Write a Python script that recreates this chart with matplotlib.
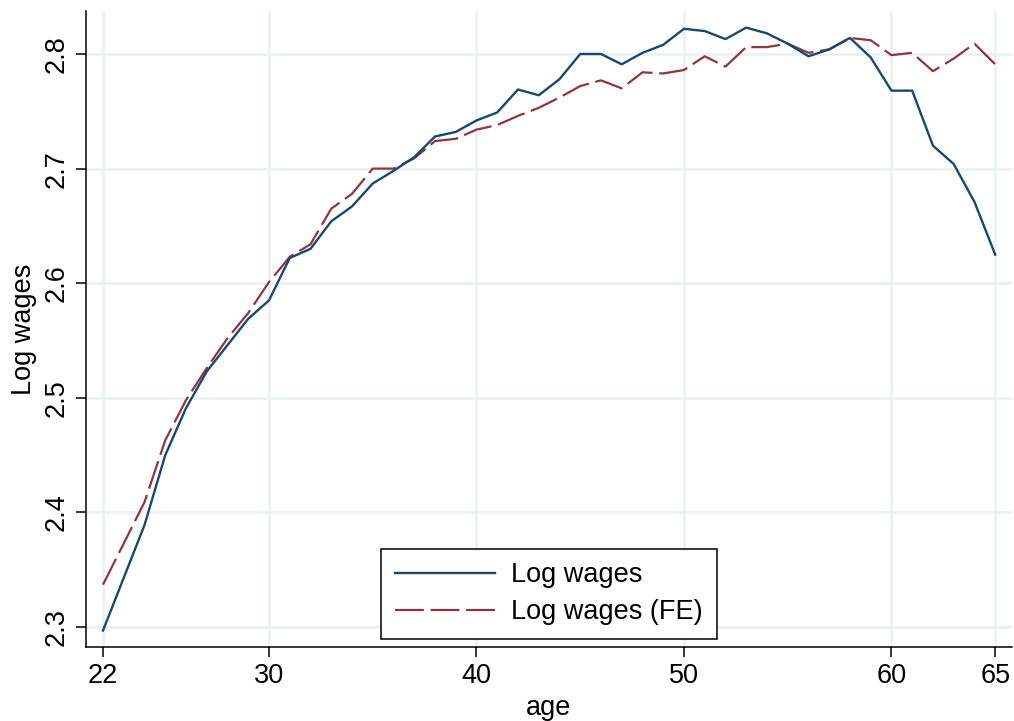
import matplotlib
matplotlib.use("Agg")
import matplotlib.pyplot as plt
import numpy as np

ages = list(range(22, 66))
log_wages = [2.297, 2.343, 2.389, 2.450, 2.491, 2.523, 2.546, 2.569, 2.585, 2.622,
             2.630, 2.654, 2.667, 2.687, 2.698, 2.710, 2.728, 2.732, 2.742, 2.749,
             2.769, 2.764, 2.778, 2.800, 2.800, 2.791, 2.801, 2.808, 2.822, 2.820,
             2.813, 2.823, 2.818, 2.809, 2.798, 2.804, 2.814, 2.797, 2.768, 2.768,
             2.720, 2.704, 2.671, 2.625]
log_wages_fe = [2.337, 2.373, 2.409, 2.463, 2.498, 2.526, 2.552, 2.574, 2.601, 2.623,
                2.634, 2.665, 2.678, 2.700, 2.700, 2.709, 2.724, 2.726, 2.734, 2.738,
                2.746, 2.753, 2.762, 2.772, 2.777, 2.770, 2.784, 2.783, 2.786, 2.798,
                2.789, 2.806, 2.806, 2.809, 2.801, 2.804, 2.814, 2.812, 2.799, 2.801,
                2.785, 2.796, 2.809, 2.791]
x_ticks = [22, 30, 40, 50, 60, 65]
y_ticks = [2.3, 2.4, 2.5, 2.6, 2.7, 2.8]
labels = ["Log wages", "Log wages (FE)"]

plt.rcParams['font.family'] = ['Liberation Sans', 'DejaVu Sans']

FS = 19.5

fig = plt.figure(figsize=(10.14, 7.21), dpi=100)
ax = fig.add_axes([86/1014, 1 - 647/721, (1012-86)/1014, (647-11)/721])

grid_c = '#eaf2f3'
for xt in x_ticks:
    ax.axvline(xt, color=grid_c, lw=2.0, zorder=0)
for yt in y_ticks:
    ax.axhline(yt, color=grid_c, lw=2.0, zorder=0)

ax.plot(ages, log_wages, color='#1a476f', lw=1.7, label=labels[0], zorder=3)
ax.plot(ages, log_wages_fe, color='#90353b', lw=1.6, linestyle=(0, (13, 3)),
        label=labels[1], zorder=2)

ax.set_xlim(21.18, 65.81)
ax.set_ylim(2.2826, 2.8375)
ax.set_xticks(x_ticks)
ax.set_xticklabels([str(t) for t in x_ticks])
ax.set_yticks(y_ticks)
ax.set_yticklabels([f"{t:.1f}" for t in y_ticks], rotation=90, va='center')

for s in ['top', 'right']:
    ax.spines[s].set_visible(False)
for s in ['left', 'bottom']:
    ax.spines[s].set_linewidth(1.1)
    ax.spines[s].set_color('black')

ax.tick_params(axis='both', direction='out', length=7.2, width=1.1,
               labelsize=FS, colors='black', pad=4.5)

ax.set_xlabel('age', fontsize=FS, labelpad=4)
ax.set_ylabel('Log wages', fontsize=FS, labelpad=5)

leg = ax.legend(loc='lower center', bbox_to_anchor=(0.5, 0.0),
                fontsize=FS, frameon=True, fancybox=False, edgecolor='black',
                framealpha=1.0,
                handlelength=3.7, handletextpad=0.6, borderpad=0.5,
                labelspacing=0.4, borderaxespad=0.3)
leg.get_frame().set_linewidth(1.1)

fig.savefig('out.png', dpi=100, facecolor='white')
